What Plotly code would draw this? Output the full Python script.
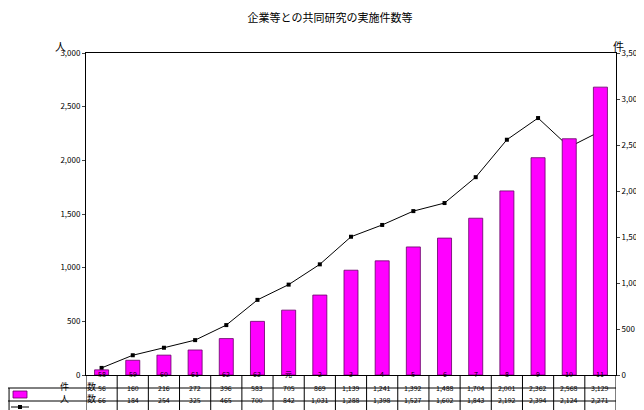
import plotly.graph_objects as go

cats = ["58","59","60","61","62","63","元","2","3","4","5","6","7","8","9","10","11"]
kensu = [56,160,216,272,396,583,705,869,1139,1241,1392,1488,1704,2001,2362,2568,3129]
ninzu = [66,184,254,325,465,700,842,1031,1288,1398,1527,1602,1843,2192,2394,2124,2271]
left_ticks = [0,500,1000,1500,2000,2500,3000]
right_ticks = [0,500,1000,1500,2000,2500,3000,3500]

F = "Noto Sans CJK JP"
n = len(cats)
fig = go.Figure()
fig.add_bar(x=list(range(n)), y=kensu, yaxis="y2", width=0.45,
            marker=dict(color="#FF00FF", line=dict(color="#660066", width=0.8)))
fig.add_scatter(x=list(range(n)), y=ninzu, mode="lines+markers",
                line=dict(color="black", width=1), marker=dict(symbol="square", size=4, color="black"))

W, H, L, R, T, B = 644, 410, 78, 36, 45, 43
pw, ph = W-L-R, H-T-B
def py(px): return (H-B-px)/ph
rows = [py(367), py(380), py(393), py(405)]
x0p = -L/pw

shapes = []
for yv in rows[1:]:
    shapes.append(dict(type="line", xref="paper", yref="paper", x0=x0p, x1=1, y0=yv, y1=yv, line=dict(color="black", width=1)))
shapes.append(dict(type="line", xref="paper", yref="paper", x0=x0p+0.002, x1=x0p+0.002, y0=rows[1], y1=rows[3], line=dict(color="black", width=1)))
for i in range(n+1):
    shapes.append(dict(type="line", xref="x", yref="paper", x0=i-0.5, x1=i-0.5, y0=0, y1=rows[3], line=dict(color="black", width=1)))
shapes.append(dict(type="rect", xref="paper", yref="paper", x0=(5-L)/pw, x1=(19-L)/pw, y0=py(390), y1=py(383), fillcolor="#FF00FF", line=dict(color="#660066", width=0.8)))
shapes.append(dict(type="line", xref="paper", yref="paper", x0=(3-L)/pw, x1=(21-L)/pw, y0=py(399), y1=py(399), line=dict(color="black", width=1)))
shapes.append(dict(type="rect", xref="paper", yref="paper", x0=(10-L)/pw, x1=(14-L)/pw, y0=py(401), y1=py(397), fillcolor="black", line=dict(color="black", width=0)))

ann = []
def t(x, y, s, xref="x", size=7):
    ann.append(dict(x=x, y=y, xref=xref, yref="paper", text=s, showarrow=False, font=dict(size=size, family=F, color="black")))
for i in range(n):
    t(i, (rows[0]+rows[1])/2, cats[i])
    t(i, (rows[1]+rows[2])/2, f"{kensu[i]:,}")
    t(i, (rows[2]+rows[3])/2, f"{ninzu[i]:,}")
t((50-L)/pw, (rows[1]+rows[2])/2, "件　　数", xref="paper", size=9)
t((50-L)/pw, (rows[2]+rows[3])/2, "人　　数", xref="paper", size=9)
t((45-L)/pw, py(28), "人", xref="paper", size=11)
t((618-L)/pw, py(28), "件", xref="paper", size=11)

fig.update_layout(
    width=W, height=H, margin=dict(l=L, r=R, t=T, b=B, autoexpand=False),
    paper_bgcolor="white", plot_bgcolor="white", showlegend=False, bargap=0.5,
    title=dict(text="企業等との共同研究の実施件数等", x=0.5, y=0.985, font=dict(size=11, family=F, color="black")),
    font=dict(family=F, size=8, color="black"),
    xaxis=dict(range=[-0.5, n-0.5], showticklabels=False, ticks="", showline=True, linecolor="black", mirror=True, showgrid=False, automargin=False),
    yaxis=dict(range=[0,3000], tickvals=left_ticks, ticktext=[f"{v:,}" for v in left_ticks], showline=True, linecolor="black", showgrid=False, ticks="outside", ticklen=3, zeroline=False, automargin=False),
    yaxis2=dict(range=[0,3500], overlaying="y", side="right", tickvals=right_ticks, ticktext=[f"{v:,}" for v in right_ticks], showline=True, linecolor="black", showgrid=False, ticks="outside", ticklen=3, zeroline=False, automargin=False),
    shapes=shapes, annotations=ann,
)
fig.write_html("out.html")
